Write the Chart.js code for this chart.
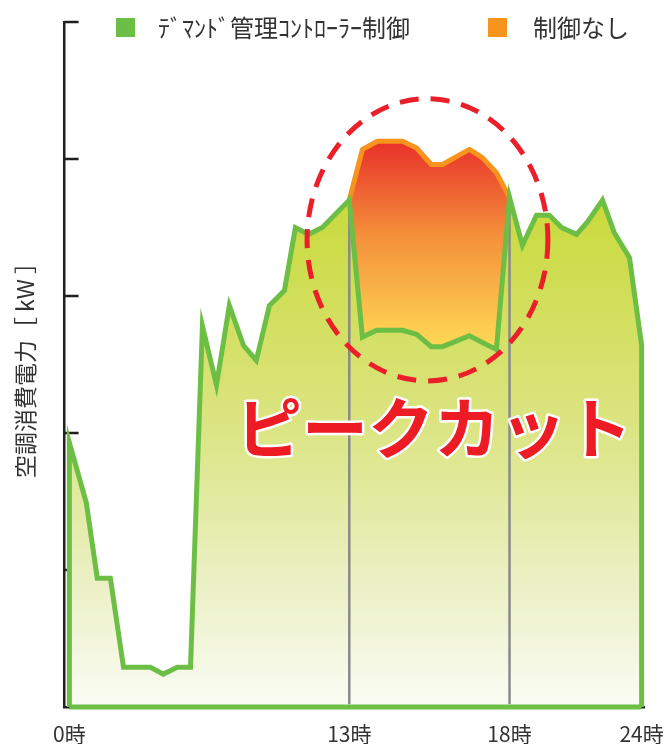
<!DOCTYPE html>
<html lang="ja">
<head>
<meta charset="utf-8">
<title>ピークカット</title>
<script src="https://cdn.jsdelivr.net/npm/chart.js@4.4.0/dist/chart.umd.min.js"></script>
<style>
    html, body { margin: 0; padding: 0; background: #fff; overflow: hidden; }
    #peakChart { display: block; width: 670px; height: 744px; }
</style>
</head>
<body>
<canvas id="peakChart" width="670" height="744"></canvas>
<script>
// position on the drawn time axis (0時 = 0, 24時 = 24)
var demandTime = [0, 0.71, 1.17, 1.72, 2.27, 3.40, 3.94, 4.53, 5.08, 5.58, 6.17, 6.71, 7.30, 7.84, 8.39, 9.02, 9.48, 10.03, 10.61, 11.74,
    12.29, 12.88, 13.97, 14.56, 15.18, 15.65, 16.78, 17.32, 17.91, 18.46, 19.00, 19.59, 20.13, 20.64, 21.27, 21.73, 22.36, 22.86, 23.49, 24];
// kW with the demand controller
var demandKw = [1.93, 1.49, 0.94, 0.94, 0.29, 0.29, 0.24, 0.29, 0.29, 2.78, 2.35, 2.93, 2.64, 2.53, 2.93, 3.04, 3.50, 3.45, 3.50, 3.70,
    2.70, 2.75, 2.75, 2.72, 2.63, 2.63, 2.71, 2.66, 2.61, 3.72, 3.37, 3.59, 3.59, 3.50, 3.45, 3.54, 3.70, 3.46, 3.28, 2.64];
// kW without control (peak part only)
var peakTime = [11.74, 12.29, 12.92, 13.97, 14.56, 15.18, 15.65, 16.78, 17.32, 17.91, 18.46];
var noControlKw = [3.70, 4.07, 4.13, 4.13, 4.08, 3.96, 3.96, 4.07, 4.01, 3.90, 3.72];

var hourTicks = [0, 11.74, 18.46, 24];
var hourLabels = ['0時', '13時', '18時', '24時'];
var kwTicks = [0, 1, 2, 3, 4, 5];

var GREEN = '#6dbe45';
var ORANGE = '#f7941d';
var AXIS = '#231f20';
var TEXT = '#333333';
var FONT = '"Noto Sans CJK JP", "Noto Sans", sans-serif';

Chart.defaults.font.family = FONT;

var HelperClass = {
    ToPoints: function (xs, ys) {
        return xs.map(function (x, i) { return { x: x, y: ys[i] }; });
    },

    Gradient: function (chart, topKw, bottomKw, stops) {
        var area = chart.chartArea;
        if (!area) return null;
        var y = chart.scales.y;
        var g = chart.ctx.createLinearGradient(0, y.getPixelForValue(topKw), 0, y.getPixelForValue(bottomKw));
        stops.forEach(function (s) { g.addColorStop(s[0], s[1]); });
        return g;
    },

    MarkerLine: function (t) {
        var kw = demandKw[demandTime.indexOf(t)];
        return {
            data: [{ x: t, y: 0.02 }, { x: t, y: kw }],
            borderColor: '#8a8a8a',
            borderWidth: 2.5,
            pointRadius: 0,
            fill: false,
            order: 5
        };
    }
};

var controlledPts = [{ x: 0, y: 0 }].concat(HelperClass.ToPoints(demandTime, demandKw), [{ x: 24, y: 0 }]);
var peakPts = HelperClass.ToPoints(peakTime, noControlKw);

var decorPlugin = {
    id: 'peakDecor',
    beforeDatasetsDraw: function (chart) {
        // short ticks pointing into the plot
        var ctx = chart.ctx, y = chart.scales.y, left = chart.chartArea.left;
        ctx.save();
        ctx.strokeStyle = AXIS;
        ctx.lineWidth = 2.5;
        kwTicks.forEach(function (v) {
            if (v === 0) return;
            var py = y.getPixelForValue(v);
            ctx.beginPath();
            ctx.moveTo(left, py);
            ctx.lineTo(left + 14, py);
            ctx.stroke();
        });
        ctx.restore();
    },
    afterDatasetsDraw: function (chart) {
        var ctx = chart.ctx, xs = chart.scales.x, ys = chart.scales.y;

        // dashed ring round the cut peak
        var cx = xs.getPixelForValue(15.02), cy = ys.getPixelForValue(3.41);
        var rx = xs.getPixelForValue(15.02 + 5.05) - cx;
        var ry = cy - ys.getPixelForValue(3.41 + 1.03);
        ctx.save();
        ctx.strokeStyle = '#ea1f29';
        ctx.lineWidth = 5;
        ctx.setLineDash([19, 12]);
        ctx.beginPath();
        ctx.ellipse(cx, cy, rx, ry, 0, 0, Math.PI * 2);
        ctx.stroke();
        ctx.restore();

        // big label
        ctx.save();
        ctx.font = 'bold 66px ' + FONT;
        ctx.textAlign = 'center';
        ctx.textBaseline = 'middle';
        ctx.lineJoin = 'round';
        var tx = xs.getPixelForValue(15.29), ty = ys.getPixelForValue(2.04);
        ctx.strokeStyle = '#ffffff';
        ctx.lineWidth = 5;
        ctx.strokeText('ピークカット', tx, ty);
        ctx.fillStyle = '#ed1c24';
        ctx.fillText('ピークカット', tx, ty);
        ctx.restore();
    },
    afterDraw: function (chart) {
        // legend
        var ctx = chart.ctx;
        ctx.save();
        ctx.font = '24px ' + FONT;
        ctx.textBaseline = 'middle';
        ctx.fillStyle = GREEN;
        ctx.fillRect(116, 18, 19, 19);
        ctx.fillStyle = ORANGE;
        ctx.fillRect(488, 18, 19, 19);
        ctx.fillStyle = TEXT;
        ctx.fillText('ﾃﾞﾏﾝﾄﾞ管理ｺﾝﾄﾛｰﾗｰ制御', 158, 28);
        ctx.fillText('制御なし', 533, 28);
        ctx.restore();
    }
};

var peakChart = new Chart(document.getElementById('peakChart'), {
    type: 'line',
    data: {
        datasets: [
            {
                label: 'fill',
                data: controlledPts,
                fill: 'origin',
                backgroundColor: function (c) {
                    return HelperClass.Gradient(c.chart, 3.8, 0, [[0, '#c8d936'], [0.45, '#dbe480'], [0.75, '#eaf0c2'], [1, '#fbfcf5']]);
                },
                borderWidth: 0,
                pointRadius: 0,
                order: 6
            },
            HelperClass.MarkerLine(hourTicks[1]),
            HelperClass.MarkerLine(hourTicks[2]),
            {
                label: '制御なし',
                data: peakPts,
                fill: 0,
                backgroundColor: function (c) {
                    return HelperClass.Gradient(c.chart, 4.13, 2.6, [[0, '#e8302a'], [0.45, '#f4903a'], [1, '#ffdc56']]);
                },
                borderColor: ORANGE,
                borderWidth: 5,
                borderJoinStyle: 'round',
                pointRadius: 0,
                clip: false,
                order: 3
            },
            {
                label: 'ﾃﾞﾏﾝﾄﾞ管理ｺﾝﾄﾛｰﾗｰ制御',
                data: controlledPts,
                fill: false,
                borderColor: GREEN,
                borderWidth: 5,
                borderJoinStyle: 'miter',
                pointRadius: 0,
                clip: false,
                order: 2
            },
            {
                data: [{ x: 0, y: 0 }, { x: 24, y: 0 }],
                fill: false,
                borderColor: GREEN,
                borderWidth: 5,
                pointRadius: 0,
                clip: false,
                order: 1
            }
        ]
    },
    options: {
        responsive: false,
        animation: false,
        events: [],
        layout: { autoPadding: false, padding: { left: 11, right: 26, top: 22, bottom: 0 } },
        plugins: {
            legend: { display: false },
            tooltip: { enabled: false }
        },
        scales: {
            x: {
                type: 'linear',
                min: -0.2,
                max: 24.1,
                grid: { display: false, drawTicks: false },
                border: { display: true, color: AXIS, width: 2.5 },
                afterBuildTicks: function (scale) {
                    scale.ticks = hourTicks.map(function (v) { return { value: v }; });
                },
                afterFit: function (scale) {
                    // keep the plot wide and tall like the original
                    scale.paddingLeft = 0;
                    scale.paddingRight = 0;
                    scale.height = 37;
                },
                ticks: {
                    autoSkip: false,
                    maxRotation: 0,
                    padding: 14,
                    color: TEXT,
                    font: { size: 21 },
                    callback: function (value, index) { return hourLabels[index]; }
                }
            },
            y: {
                type: 'linear',
                min: 0,
                max: 5,
                grid: { display: false, drawTicks: false },
                border: { display: true, color: AXIS, width: 2.5 },
                afterBuildTicks: function (scale) {
                    scale.ticks = kwTicks.map(function (v) { return { value: v }; });
                },
                ticks: { display: false },
                title: {
                    display: true,
                    text: '空調消費電力［ kW ］',
                    color: TEXT,
                    font: { size: 23 },
                    padding: { top: 0, bottom: 26 }
                }
            }
        }
    },
    plugins: [decorPlugin]
});
</script>
</body>
</html>
